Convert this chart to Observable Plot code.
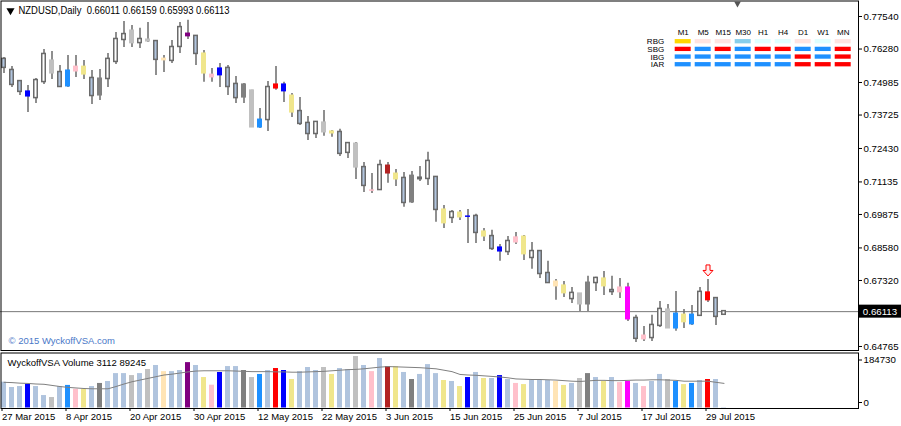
<!DOCTYPE html>
<html><head><meta charset="utf-8">
<script src="https://cdn.jsdelivr.net/npm/d3@7"></script>
<script src="https://cdn.jsdelivr.net/npm/@observablehq/plot@0.6"></script>
<style>
html,body{margin:0;padding:0;background:#fff;}
#chart{position:relative;width:901px;height:426px;overflow:hidden;}
#chart svg{position:absolute;left:0;top:0;}
</style></head><body><div id="chart"></div>
<script>
// ---------- data ----------
const symbolName = "NZDUSD", periodName = "Daily";
const dateLabels = ["27 Mar 2015","8 Apr 2015","20 Apr 2015","30 Apr 2015","12 May 2015","22 May 2015","3 Jun 2015","15 Jun 2015","25 Jun 2015","7 Jul 2015","17 Jul 2015","29 Jul 2015"];
const dateIdx = [0,8,16,24,32,40,48,56,64,72,80,88];

const open = [
.7588,.7545,.7502,.7464,.7440,.7502,.7584,.7537,.7483,.7541,
.7560,.7514,.7448,.7514,.7580,.7665,.7700,.7653,.7665,.7657,
.7591,.7584,.7638,.7688,.7677,.7611,.7529,.7526,.7553,.7491,
.7440,.7468,.7324,.7355,.7475,.7491,.7448,.7386,.7340,.7301,
.7344,.7309,.7305,.7228,.7262,.7169,.7081,.7084,.7177,.7146,
.7127,.7034,.7128,.7127,.7131,.7007,.6976,.6995,.6980,.6980,
.6922,.6902,.6860,.6844,.6879,.6902,.6821,.6844,.6759,.6728,
.6713,.6662,.6682,.6639,.6724,.6740,.6693,.6705,.6705,.6585,
.6504,.6511,.6558,.6620,.6604,.6570,.6600,.6597,.6686,.6662,
.66011];
const high = [
.7595,.7560,.7506,.7487,.7514,.7626,.7618,.7564,.7603,.7603,
.7584,.7545,.7549,.7611,.7692,.7735,.7719,.7708,.7731,.7657,
.7603,.7661,.7731,.7739,.7677,.7622,.7553,.7572,.7564,.7522,
.7495,.7468,.7398,.7502,.7560,.7499,.7456,.7440,.7367,.7344,
.7390,.7313,.7317,.7262,.7266,.7189,.7146,.7197,.7189,.7162,
.7150,.7154,.7173,.7228,.7131,.7022,.7003,.7003,.7007,.6988,
.6933,.6926,.6871,.6902,.6918,.6906,.6879,.6848,.6806,.6736,
.6728,.6705,.6682,.6748,.6744,.6767,.6748,.6740,.6721,.6597,
.6554,.6597,.6651,.6639,.6689,.6620,.6635,.6705,.6736,.6666,
.66159];
const low = [
.7533,.7479,.7448,.7382,.7417,.7491,.7510,.7479,.7479,.7518,
.7510,.7413,.7429,.7479,.7568,.7634,.7634,.7630,.7653,.7526,
.7537,.7572,.7611,.7665,.7564,.7499,.7499,.7479,.7448,.7417,
.7417,.7324,.7320,.7309,.7468,.7421,.7363,.7332,.7274,.7282,
.7290,.7286,.7212,.7204,.7123,.7073,.7069,.7084,.7108,.7096,
.7015,.7030,.7115,.7100,.6957,.6933,.6953,.6964,.6875,.6875,
.6883,.6848,.6806,.6829,.6871,.6809,.6775,.6740,.6721,.6655,
.6666,.6643,.6612,.6612,.6689,.6674,.6674,.6662,.6573,.6492,
.6496,.6496,.6550,.6546,.6535,.6546,.6558,.6593,.6647,.6558,
.65993];
const close = [
.7557,.7491,.7464,.7444,.7506,.7607,.7533,.7483,.7545,.7560,
.7529,.7448,.7514,.7588,.7665,.7684,.7650,.7665,.7657,.7588,
.7584,.7634,.7711,.7677,.7611,.7533,.7518,.7553,.7483,.7440,
.7491,.7324,.7355,.7479,.7491,.7464,.7382,.7340,.7301,.7344,
.7305,.7301,.7224,.7262,.7169,.7100,.7079,.7177,.7146,.7123,
.7034,.7138,.7126,.7193,.7007,.6953,.6995,.6976,.6978,.6918,
.6902,.6856,.6844,.6883,.6899,.6833,.6844,.6759,.6724,.6709,
.6682,.6682,.6639,.6724,.6740,.6709,.6689,.6686,.6581,.6508,
.6519,.6558,.6620,.6546,.6546,.6600,.6562,.6686,.6655,.6593,
.66113];
// VSA signal of each bar ("" = none)
const signal = [
"","","","blue","","","silver","","dodgerblue","pink",
"khaki","","gray","","","","silver","","silver","",
"bisque","","","purple","","khaki","pink","blue","","",
"gray","silver","dodgerblue","","red","blue","khaki","","","",
"silver","khaki","","","silver","","pink","","firebrick","khaki",
"","gray","","","","khaki","","khaki","blue","",
"khaki","","blue","","pink","khaki","","","","bisque",
"khaki","","silver","gray","","khaki","","pink","magenta","",
"pink","","","silver","dodgerblue","khaki","dodgerblue","","red","",
""];
const volume = [
93400,74600,78000,86000,78000,46000,39000,78000,82000,68600,
68600,78000,89000,96000,124000,124000,117000,124000,138500,152800,
131000,131000,135000,163000,152800,110000,82800,128000,149000,149000,
135000,110000,121000,135000,142000,135000,103000,131000,145600,135000,
145600,121000,142000,138500,184730,152800,131000,177600,149000,149000,
128000,103000,121000,156000,124000,99500,96000,78000,110000,128000,
106600,106600,117000,103000,89000,85000,99500,99500,99500,96000,
82000,89000,106600,124000,110000,96000,110000,92000,96000,89000,
78000,96000,121000,103000,96000,85000,89000,99500,103000,103000,
3112];
const volumeMA = [
93000,92000,90000,89000,87000,86000,82000,78000,75000,73000,
71000,70000,70000,70000,78000,87000,95000,101000,107000,113000,
119000,122000,126000,130000,133000,134000,134000,134000,134000,133000,
132000,131000,131000,131000,130000,130000,129000,129000,130000,131000,
132000,134000,136000,138000,139000,141000,144000,147000,149000,148000,
147000,146000,145000,143000,141000,136000,131000,121000,119000,118000,
116000,114000,112000,109000,105000,104000,103000,103000,102000,101000,
99000,97000,96000,98000,100000,100000,99000,99000,100000,101000,
101000,102000,102000,101000,100000,97000,97000,97000,97000,93000,
89245];
const priceTicks = [0.77540,0.76280,0.74985,0.73725,0.72430,0.71135,0.69875,0.68580,0.67320,0.64765];
const downArrows = [88];
const timeframes = ["M1","M5","M15","M30","H1","H4","D1","W1","MN"];
const gridRows = ["RBG","SBG","IBG","IAR"];
const gridRBG = ["gold","mistyrose","mistyrose","skyblue","lightcyan","lightcyan","mistyrose","lightcyan","mistyrose"];
const gridSBG = ["red","dodgerblue","red","dodgerblue","red","red","dodgerblue","dodgerblue","red"];
const gridIBG = ["dodgerblue","dodgerblue","dodgerblue","dodgerblue","dodgerblue","dodgerblue","red","dodgerblue","red"];
const gridIAR = ["dodgerblue","dodgerblue","dodgerblue","dodgerblue","dodgerblue","dodgerblue","red","red","red"];

// ---------- build ----------
const colorMap = {blue:"#0000FF", silver:"#C0C0C0", dodgerblue:"#1E90FF", pink:"#FFC0CB", khaki:"#F0E68C",
  gray:"#808080", bisque:"#FFE4B5", purple:"#800080", red:"#FF0000", firebrick:"#B22222", magenta:"#FF00FF",
  gold:"#FFD700", mistyrose:"#FFE4E1", skyblue:"#87CEEB", lightcyan:"#E0FFFF"};
const bars = open.map((o,i)=>({i, o, h:high[i], l:low[i], c:close[i], sig:signal[i], v:volume[i], ma:volumeMA[i]}));
const last = bars[bars.length-1];
const fmt5 = d3.format(".5f");
const W = 901, H = 426;
const FONT = "'Liberation Sans', Arial, sans-serif";
const xDomain = [-0.4375, 106.8125];
const hw = 0.3125;
const wick = "#6a6a6a";
const nb = "\u00a0";
const titleText = `${symbolName},${periodName}${nb}${nb}${fmt5(last.o)} ${fmt5(last.h)} ${fmt5(last.l)} ${fmt5(last.c)}`;

const downArrow = { draw(ctx) {
  ctx.moveTo(-2,-5.5); ctx.lineTo(2,-5.5); ctx.lineTo(2,0); ctx.lineTo(5,0);
  ctx.lineTo(0,5.5); ctx.lineTo(-5,0); ctx.lineTo(-2,0); ctx.closePath(); } };

const main = Plot.plot({
  width: W, height: H, marginLeft: 0, marginRight: 43, marginTop: 0, marginBottom: 76,
  style: {fontFamily: FONT, fontSize: "9.5px", background: "white", color: "black"},
  x: {domain: xDomain, axis: null},
  y: {domain: [0.64609, 0.78159]},
  marks: [
    Plot.ruleY([last.c], {stroke: "#777", strokeWidth: 1}),
    Plot.ruleX(bars, {x: "i", y1: "l", y2: "h", stroke: wick, strokeWidth: 1.5}),
    Plot.rect(bars.filter(d => !d.sig), {x1: d => d.i - hw, x2: d => d.i + hw, y1: "o", y2: "c",
      fill: d => d.c >= d.o ? "white" : "#B0C4DE", stroke: wick, strokeWidth: 1.5,
      insetLeft: 0.75, insetRight: 0.75, insetTop: -0.5, insetBottom: -0.5}),
    Plot.rect(bars.filter(d => d.sig), {x1: d => d.i - hw, x2: d => d.i + hw, y1: "o", y2: "c",
      fill: d => colorMap[d.sig], insetTop: -0.5, insetBottom: -0.5}),
    Plot.dot(downArrows, {x: d => d, y: d => high[d], dy: -9, symbol: downArrow, r: 5,
      fill: "#fff0f0", stroke: "red", strokeWidth: 1}),
    Plot.frame({stroke: "black", insetLeft: 0.5, insetTop: 0.5}),
    Plot.axisY(priceTicks, {anchor: "right", tickSize: 3, tickPadding: 2, tickFormat: fmt5, label: null, fontSize: 9.7}),
    Plot.rect([last.c], {y1: d => d, y2: d => d, insetTop: -6.5, insetBottom: -6.5, insetLeft: 859, insetRight: -43, fill: "black"}),
    Plot.text([last.c], {y: d => d, frameAnchor: "right", dx: 21.5, text: d => fmt5(d), fill: "white", textAnchor: "middle", fontSize: 9.7}),
    Plot.text([titleText], {frameAnchor: "top-left", dx: 18, dy: 10.5, textAnchor: "start", lineAnchor: "middle", fill: "black", fontSize: 10}),
    Plot.dot([0], {frameAnchor: "top-left", dx: 10, dy: 10, symbol: "triangle", rotate: 180, r: 3, fill: "black", stroke: null}),
    Plot.dot([0], {frameAnchor: "top-left", dx: 737, dy: 3, symbol: "triangle", rotate: 180, r: 2.5, fill: "#555", stroke: null}),
    Plot.text(["\u00a9 2015 WyckoffVSA.com"], {frameAnchor: "bottom-left", dx: 8, dy: -10, textAnchor: "start", lineAnchor: "middle", fill: "#4a78c8"})
  ]
});
// stretch the title to the reference's measured length
d3.select(main).selectAll("text").filter(function() { return this.textContent === titleText; })
  .attr("textLength", 211).attr("lengthAdjust", "spacingAndGlyphs");

const vmax = d3.max(volume);
const vol = Plot.plot({
  width: W, height: H, marginLeft: 0, marginRight: 43, marginTop: 356, marginBottom: 18,
  style: {fontFamily: FONT, fontSize: "9.5px", background: "transparent", color: "black"},
  x: {domain: xDomain},
  y: {domain: [0, vmax]},
  marks: [
    Plot.rect(bars, {x1: d => d.i - hw, x2: d => d.i + hw, y1: 0, y2: "v", fill: d => d.sig ? colorMap[d.sig] : "#B0C4DE", insetBottom: 0.5}),
    Plot.line(bars, {x: "i", y: "ma", stroke: "#808080", strokeWidth: 1}),
    Plot.frame({stroke: "black", insetTop: -3.5, insetLeft: 0.5}),
    Plot.axisY([vmax], {anchor: "right", tickSize: 3, tickPadding: 2, dy: 3.5, tickFormat: d => String(d), label: null, fontSize: 9.7}),
    Plot.axisY([0], {anchor: "right", tickSize: 3, tickPadding: 2, dy: -6, tickFormat: d => String(d), label: null, fontSize: 9.7}),
    Plot.axisX(dateIdx, {anchor: "bottom", tickSize: 3, tickPadding: 2, textAnchor: "start", dx: -2,
      tickFormat: d => dateLabels[dateIdx.indexOf(d)], label: null}),
    Plot.text([`WyckoffVSA Volume ${last.v} ${last.ma}`], {frameAnchor: "top-left", dx: 7, dy: 6, textAnchor: "start", lineAnchor: "middle", fill: "black"})
  ]
});

const gridColors = [gridRBG, gridSBG, gridIBG, gridIAR];
const gridData = gridRows.flatMap((r, ri) => timeframes.map((tf, k) => ({row: r, tf, color: gridColors[ri][k]})));
const grid = Plot.plot({
  width: W, height: H, marginLeft: 670.7, marginRight: 46.3, marginTop: 35.7, marginBottom: 356.25,
  style: {fontFamily: FONT, fontSize: "8px", background: "transparent", color: "black"},
  x: {type: "band", domain: timeframes, padding: 0.2, round: false, axis: "top", tickSize: 0, tickPadding: 1, label: null},
  y: {type: "band", domain: gridRows, padding: 0.44, round: false, axis: "left", tickSize: 0, tickPadding: 7, label: null},
  marks: [
    Plot.cell(gridData, {x: "tf", y: "row", fill: d => colorMap[d.color]})
  ]
});

const el = document.getElementById("chart");
el.appendChild(main); el.appendChild(vol); el.appendChild(grid);
</script></body></html>
